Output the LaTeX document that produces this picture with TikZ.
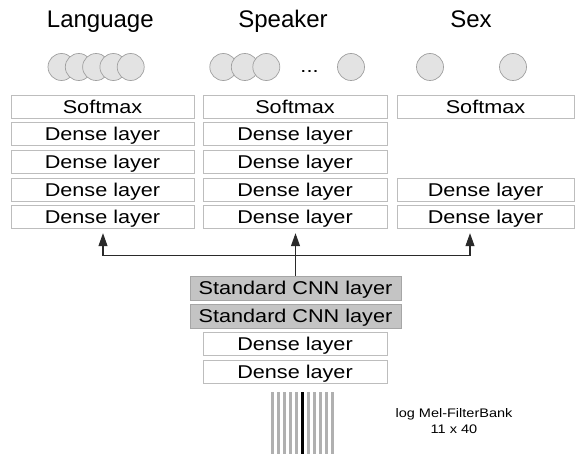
\documentclass[tikz,border=0pt]{standalone}
\usepackage{fontspec}
\setmainfont{Liberation Sans}
\usetikzlibrary{arrows.meta,calc}
\definecolor{boxline}{HTML}{BDBDBD}
\definecolor{cnnfill}{HTML}{C4C4C4}
\definecolor{cnnline}{HTML}{A6A6A6}
\definecolor{unitfill}{HTML}{E3E3E3}
\definecolor{unitline}{HTML}{A0A0A0}
\definecolor{barcol}{HTML}{B0B0B0}
\definecolor{wirecol}{HTML}{2A2A2A}
% box labels are set slightly wider than the font's natural width
\newcommand\wtxt[1]{\scalebox{1.17}[1]{#1}}
\begin{document}
\begin{tikzpicture}[x=1pt,y=-1pt,
  layer/.style={draw=boxline,line width=0.8pt,minimum height=23pt,inner sep=0pt,
    font=\fontsize{18.5}{20}\selectfont,text height=13.3pt,text depth=0pt},
  cnn/.style={layer,fill=cnnfill,draw=cnnline,minimum width=211pt,minimum height=24pt},
  head/.style={anchor=base,font=\fontsize{24}{28}\selectfont},
  unit/.style={circle,draw=unitline,fill=unitfill,line width=0.7pt,minimum size=27pt,inner sep=0pt},
  wire/.style={draw=wirecol,line width=1.1pt},
  arr/.style={wire,-{Triangle[length=13pt,width=9pt]},shorten >=4pt}]

\fill[white] (0,0) rectangle (575,454);
\useasboundingbox (0,0) rectangle (575,454);

% task headings
\node[head] (hlang) at (100.3,27.7) {Language};
\node[head] (hspk)  at (283,27.7)   {Speaker};
\node[head] (hsex)  at (471,27.7)   {Sex};

% output units
\foreach \i in {1,...,5}
  \node[unit] (lc\i) at ({61.5+17.3*(\i-1)},67) {};
\node[unit] (sc1) at (223.3,67) {};
\node[unit] (sc2) at (244.8,67) {};
\node[unit] (sc3) at (266.3,67) {};
\node[anchor=base,font=\fontsize{18.5}{20}\selectfont] (dots) at (309.5,72.3) {\wtxt{...}};
\node[unit] (sc4) at (351,67) {};
\node[unit] (xc1) at (430,67) {};
\node[unit] (xc2) at (513,67) {};

% language branch
\node[layer,minimum width=183pt] (lang0) at (102.5,106.5) {\wtxt{Softmax}};
\node[layer,minimum width=183pt] (lang1) at (102.5,134.2) {\wtxt{Dense layer}};
\node[layer,minimum width=183pt] (lang2) at (102.5,161.9) {\wtxt{Dense layer}};
\node[layer,minimum width=183pt] (lang3) at (102.5,189.6) {\wtxt{Dense layer}};
\node[layer,minimum width=183pt] (lang4) at (102.5,217.3) {\wtxt{Dense layer}};

% speaker branch
\node[layer,minimum width=184pt] (spk0) at (295,106.5) {\wtxt{Softmax}};
\node[layer,minimum width=184pt] (spk1) at (295,134.2) {\wtxt{Dense layer}};
\node[layer,minimum width=184pt] (spk2) at (295,161.9) {\wtxt{Dense layer}};
\node[layer,minimum width=184pt] (spk3) at (295,189.6) {\wtxt{Dense layer}};
\node[layer,minimum width=184pt] (spk4) at (295,217.3) {\wtxt{Dense layer}};

% sex branch
\node[layer,minimum width=177pt] (sex0) at (485.5,106.5) {\wtxt{Softmax}};
\node[layer,minimum width=177pt] (sex3) at (485.5,189.6) {\wtxt{Dense layer}};
\node[layer,minimum width=177pt] (sex4) at (485.5,217.3) {\wtxt{Dense layer}};

% shared trunk
\node[cnn] (cnn1) at (295.5,288) {\wtxt{Standard CNN layer}};
\node[cnn] (cnn2) at (295.5,316) {\wtxt{Standard CNN layer}};
\node[layer,minimum width=184pt] (fc1) at (295,344) {\wtxt{Dense layer}};
\node[layer,minimum width=184pt] (fc2) at (295,371.5) {\wtxt{Dense layer}};

% input features: 11 frames
\foreach \i in {0,...,10}
  \fill[barcol] ({271.2+6*\i},392) rectangle ({274.4+6*\i},454);
\fill[black] (301.2,392) rectangle (304.4,454);
\node[align=center,font=\fontsize{12.4}{16}\selectfont] (fbank) at (454,421)
  {\wtxt{log Mel-FilterBank}\\\wtxt{11 x 40}};

% fan-out from the trunk to the three branches
\coordinate (busL) at (103,255.7);
\coordinate (busR) at (470,255.7);
\path[wire] (busL) -- (busR);
\draw[arr] (busL) -- (busL |- lang4.south);
\draw[arr] (cnn1.north) -- (cnn1.north |- spk4.south);
\draw[arr] (busR) -- (busR |- sex4.south);
\end{tikzpicture}
\end{document}
